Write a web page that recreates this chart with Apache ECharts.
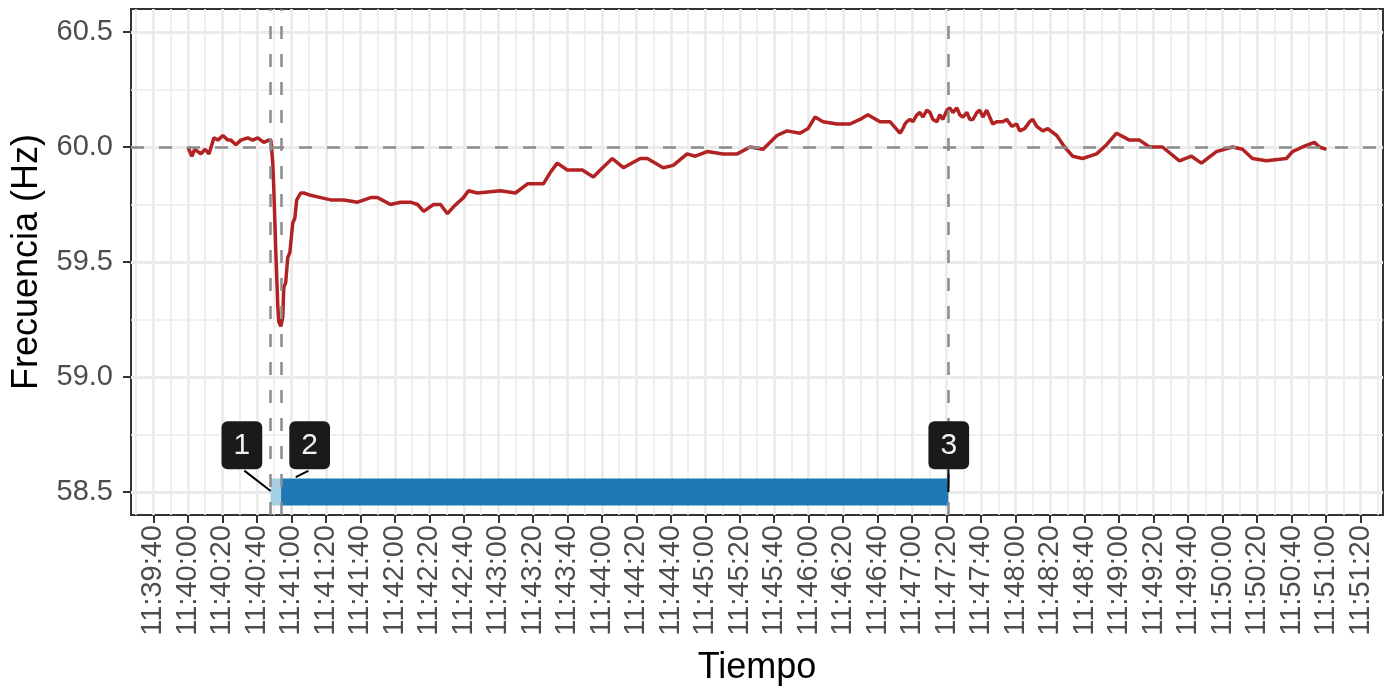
<!DOCTYPE html>
<html lang="es">
<head>
    <meta charset="UTF-8">
    <title>Frecuencia</title>
    <script src="https://cdn.jsdelivr.net/npm/echarts@6/dist/echarts.min.js"></script>
    <style>
        html, body { margin: 0; padding: 0; background: #fff; }
        #chart { width: 1398px; height: 692px; }
    </style>
</head>
<body>
    <div id="chart"></div>
<script>
    // segundos desde las 11:40:00
    var tiempo = [
        0.0, 2.3, 4.0, 5.8, 7.5, 10.0, 12.2, 15.1, 17.4, 20.3, 23.2, 24.9, 27.8, 30.7, 34.7, 37.6, 40.5, 44.0, 46.9,
        48.1, 49.2, 49.8, 51.0, 52.1, 52.7, 53.9, 55.0, 55.6, 56.7, 57.9, 59.1, 60.8, 62.0, 63.1, 65.4, 67.2,
        71.2, 77.0, 82.8, 90.3, 98.4, 106.0, 110.0, 117.5, 123.3, 129.1, 133.2, 136.7, 142.4, 146.5, 150.5,
        154.0, 159.8, 162.7, 167.9, 181.2, 189.9, 196.9, 206.1, 210.2, 214.2, 220.0, 228.7, 235.1, 239.1,
        246.1, 252.5, 262.3, 266.4, 275.6, 281.4, 289.5, 294.2, 301.1, 310.4, 318.5, 326.0, 333.5, 341.6,
        347.4, 354.9, 359.6, 363.6, 368.3, 376.4, 383.9, 389.7, 394.3, 401.3, 407.1, 412.9, 414.6, 415.8,
        416.9, 418.7, 420.4, 422.7, 424.5, 426.2, 428.5, 430.3, 432.0, 434.3, 436.0, 437.8, 440.1, 441.8,
        443.6, 445.9, 447.6, 449.4, 451.7, 453.4, 455.2, 457.5, 459.2, 461.0, 463.2, 466.7, 469.0, 472.5,
        474.8, 477.7, 480.6, 482.3, 485.2, 488.1, 489.9, 492.2, 495.7, 498.6, 503.8, 508.4, 513.0, 518.8,
        526.9, 532.7, 538.5, 546.0, 551.8, 557.6, 565.1, 575.0, 581.9, 587.7, 596.4, 605.7, 611.5, 617.3,
        625.4, 637.0, 640.5, 646.3, 653.2, 656.1, 660.2
    ];
    var frecuencia = [
        60.00, 59.96, 59.99, 59.98, 59.97, 59.99, 59.97, 60.04, 60.03, 60.05, 60.03, 60.03, 60.01, 60.03, 60.04, 60.03, 60.04, 60.02, 60.03,
        60.03, 59.93, 59.82, 59.54, 59.31, 59.24, 59.22, 59.26, 59.39, 59.41, 59.52, 59.54, 59.67, 59.69, 59.77, 59.80, 59.80,
        59.79, 59.78, 59.77, 59.77, 59.76, 59.78, 59.78, 59.75, 59.76, 59.76, 59.75, 59.72, 59.75, 59.75, 59.71,
        59.74, 59.78, 59.81, 59.80, 59.81, 59.80, 59.84, 59.84, 59.89, 59.93, 59.90, 59.90, 59.87, 59.90,
        59.95, 59.91, 59.95, 59.95, 59.91, 59.92, 59.97, 59.96, 59.98, 59.97, 59.97, 60.00, 59.99, 60.05,
        60.07, 60.06, 60.08, 60.13, 60.11, 60.10, 60.10, 60.12, 60.14, 60.11, 60.11, 60.06, 60.08, 60.10,
        60.11, 60.12, 60.11, 60.14, 60.15, 60.13, 60.16, 60.15, 60.12, 60.11, 60.14, 60.12, 60.16, 60.17,
        60.15, 60.17, 60.14, 60.13, 60.15, 60.12, 60.12, 60.15, 60.16, 60.13, 60.16, 60.10, 60.11, 60.11,
        60.12, 60.09, 60.10, 60.07, 60.08, 60.11, 60.12, 60.09, 60.07, 60.08, 60.05, 60.00, 59.96, 59.95,
        59.97, 60.01, 60.06, 60.03, 60.03, 60.00, 60.00, 59.94, 59.96, 59.93, 59.98, 60.00, 59.99, 59.95,
        59.94, 59.95, 59.98, 60.00, 60.02, 60.00, 59.99
    ];

    // eventos (segundos desde 11:40:00)
    var eventos = [48, 54, 441];
    var etiquetas = ['1', '2', '3'];
    var frecNominal = 60.0;
    var yBarra = 58.5;
    var yEtiqueta = 58.703;

    var xMin = -33, xMax = 693;
    var yMin = 58.4, yMax = 60.6;
    var yMajor = [58.5, 59.0, 59.5, 60.0, 60.5];
    var yMinor = [58.75, 59.25, 59.75, 60.25];
    var xMajor = [], xMinor = [];
    for (var s = -20; s <= 680; s += 20) xMajor.push(s);
    for (var s2 = -30; s2 <= 690; s2 += 20) xMinor.push(s2);

    var base = 11 * 3600 + 40 * 60;
    function hms(v) {
        var t = Math.round(base + v);
        var h = Math.floor(t / 3600), m = Math.floor((t % 3600) / 60), sec = t % 60;
        var p = function (n) { return (n < 10 ? '0' : '') + n; };
        return p(h) + ':' + p(m) + ':' + p(sec);
    }

    var linea = tiempo.map(function (t, i) { return [t, frecuencia[i]]; });

    var chart = echarts.init(document.getElementById('chart'));
    chart.setOption({
        animation: false,
        textStyle: { fontFamily: 'Liberation Sans, Arial, sans-serif' },
        grid: {
            left: 131, right: 15, top: 9, bottom: 177,
            show: true, borderColor: '#333333', borderWidth: 2, backgroundColor: '#fff'
        },
        xAxis: [{
            type: 'value', min: xMin, max: xMax,
            axisLine: { show: false, onZero: false },
            axisTick: { show: true, customValues: xMajor, length: 8, lineStyle: { color: '#333333', width: 2 } },
            axisLabel: {
                customValues: xMajor, rotate: 90, formatter: hms,
                color: '#4d4d4d', fontSize: 29, margin: 10
            },
            splitLine: { show: true, lineStyle: { color: '#ebebeb', width: 2.8 } },
            name: 'Tiempo', nameLocation: 'middle', nameGap: 135,
            nameTextStyle: { color: '#000', fontSize: 36 }
        }, {
            type: 'value', min: xMin, max: xMax, position: 'bottom',
            axisLine: { show: false, onZero: false }, axisLabel: { show: false },
            axisTick: { show: false, customValues: xMinor },
            splitLine: { show: true, lineStyle: { color: '#ebebeb', width: 1.6 } }
        }],
        yAxis: [{
            type: 'value', min: yMin, max: yMax,
            axisLine: { show: false, onZero: false },
            axisTick: { show: true, customValues: yMajor, length: 8, lineStyle: { color: '#333333', width: 2 } },
            axisLabel: {
                customValues: yMajor, formatter: function (v) { return v.toFixed(1); },
                color: '#4d4d4d', fontSize: 29, margin: 18
            },
            splitLine: { show: true, lineStyle: { color: '#ebebeb', width: 2.8 } },
            name: 'Frecuencia (Hz)', nameLocation: 'middle', nameGap: 86,
            nameTextStyle: { color: '#000', fontSize: 36 }
        }, {
            type: 'value', min: yMin, max: yMax, position: 'left',
            axisLine: { show: false, onZero: false }, axisLabel: { show: false },
            axisTick: { show: false, customValues: yMinor },
            splitLine: { show: true, lineStyle: { color: '#ebebeb', width: 1.6 } }
        }],
        series: [
            {
                name: 'frecuencia', type: 'line', data: linea, z: 2,
                showSymbol: false, symbol: 'none',
                lineStyle: { color: '#b22222', width: 3.5 }
            },
            {
                name: 'guias', type: 'line', data: [], z: 3,
                markLine: {
                    silent: true, symbol: 'none', animation: false,
                    label: { show: false },
                    lineStyle: { color: '#8c8c8c', width: 2.5, type: [13, 15] },
                    data: eventos.map(function (e) { return { xAxis: e }; }).concat([{ yAxis: frecNominal }])
                }
            },
            {
                name: 'previo', type: 'line', z: 4, symbol: 'none',
                data: [[eventos[0], yBarra], [eventos[1], yBarra]],
                lineStyle: { color: '#a6cee3', width: 27, cap: 'butt' }
            },
            {
                name: 'recuperacion', type: 'line', z: 4, symbol: 'none',
                data: [[eventos[1], yBarra], [eventos[2], yBarra]],
                lineStyle: { color: '#1f78b4', width: 27, cap: 'butt' }
            },
            {
                name: 'seg1', type: 'line', z: 5, symbol: 'none',
                data: [[32.7, 58.593], [eventos[0], 58.504]],
                lineStyle: { color: '#000', width: 2 }
            },
            {
                name: 'seg2', type: 'line', z: 3.5, symbol: 'none',
                data: [[69.8, 58.592], [62.5, 58.565]],
                lineStyle: { color: '#000', width: 2 }
            },
            {
                name: 'seg3', type: 'line', z: 5, symbol: 'none',
                data: [[eventos[2], 58.599], [eventos[2], 58.5]],
                lineStyle: { color: '#000', width: 2 }
            },
            {
                name: 'etiquetas', type: 'scatter', z: 6, symbolSize: 0,
                itemStyle: { opacity: 1 },
                data: [
                    { name: etiquetas[0], value: [31.3, yEtiqueta] },
                    { name: etiquetas[1], value: [70.6, yEtiqueta] },
                    { name: etiquetas[2], value: [441.2, yEtiqueta] }
                ],
                label: {
                    show: true, position: 'inside', formatter: '{b}', opacity: 1,
                    color: '#f0f0f0', fontSize: 30, lineHeight: 34,
                    backgroundColor: '#1a1a1a', borderRadius: 6, padding: [7, 12]
                }
            }
        ]
    });
    window.onresize = chart.resize;
</script>
</body>
</html>
